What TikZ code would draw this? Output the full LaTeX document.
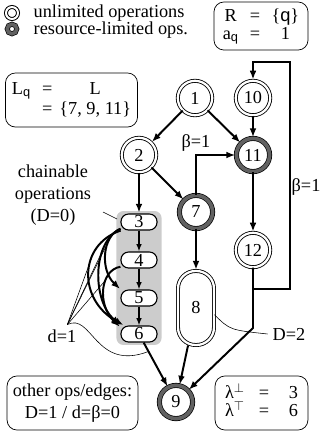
\documentclass[tikz,border=0pt]{standalone}
\usepackage{fontspec}
\setmainfont{Liberation Serif}
\setsansfont{Liberation Sans}
\usetikzlibrary{arrows.meta,positioning,calc,fit,backgrounds}
\tikzset{
  unl/.style={circle, draw=black, line width=0.6pt, double=white,
    double distance=1.6pt, minimum size=0.86cm, inner sep=0pt},
  lim/.style={circle, draw=black, line width=0.5pt, double=black!62,
    double distance=2.6pt, minimum size=0.83cm, inner sep=0pt},
  legunl/.style={unl, line width=0.7pt, minimum size=0.3cm, double distance=1.4pt},
  leglim/.style={lim, minimum size=0.24cm, double distance=2.5pt},
  chn/.style={rectangle, rounded corners=0.19cm, draw=black, line width=0.8pt,
    fill=white, minimum width=0.9cm, minimum height=0.4cm, inner sep=0pt},
  multi/.style={rectangle, rounded corners=0.44cm, draw=black, line width=0.6pt,
    double=white, double distance=1.6pt, minimum width=0.9cm,
    minimum height=1.85cm, inner sep=0pt},
  chainbg/.style={rectangle, rounded corners=5pt, fill=black!20,
    inner xsep=0.1cm, inner ysep=0.06cm},
  infobox/.style={rectangle, rounded corners=7pt, draw=black, line width=0.5pt,
    align=center, inner sep=0pt},
  dep/.style={-{Latex[length=2.2mm,width=1.7mm]}, line width=1.4pt, shorten >=0.6pt},
  link/.style={-{Latex[length=1.8mm,width=1.4mm]}, line width=1pt},
  note/.style={line width=0.4pt},
}

\begin{document}
\begin{tikzpicture}[x=0.025cm, y=-0.025cm, font=\fontsize{13}{15.5}\selectfont]
  \useasboundingbox (0,0) rectangle (320,437);

  % legend
  \node[legunl] (iu) at (12,13) {};
  \node[leglim] (il) at (12,29) {};
  \node[anchor=west, inner sep=1pt] (tu) at (32,13) {unlimited operations};
  \node[anchor=west, inner sep=1pt] (tl) at (32,30) {resource-limited ops.};

  % info boxes
  \node[infobox, minimum width=2.35cm, minimum height=1.2cm] (rbox) at (261,26)
    {\begin{tabular}{@{}c@{\hspace{8pt}}c@{\hspace{8pt}}c@{}}
      R & = & \{\textsf{q}\}\\[-3pt]
      a\textsubscript{\sffamily q} & = & 1
    \end{tabular}};
  \node[infobox, minimum width=3.3cm, minimum height=1.35cm] (lbox) at (71.5,100)
    {\begin{tabular}{@{}c@{\hspace{8pt}}c@{\hspace{5pt}}c@{}}
      L\textsubscript{\sffamily q} & = & L\\[-1pt]
       & = & \{7, 9, 11\}
    \end{tabular}};
  \node[infobox, minimum width=3.27cm, minimum height=1.35cm] (obox) at (72.5,403)
    {other ops/edges:\\D=1 / d=β=0};
  \node[infobox, minimum width=2.32cm, minimum height=1.35cm] (lmbox) at (261.5,403)
    {\begin{tabular}{@{}c@{\hspace{10pt}}c@{\hspace{14pt}}c@{}}
      λ$^{\perp}$ & = & 3\\[-3pt]
      λ$^{\top}$ & = & 6
    \end{tabular}};

  % operations
  \node[unl] (n1) at (195,98) {1};
  \node[unl] (n10) at (253,98) {10};
  \node[unl] (n2) at (139,155) {2};
  \node[lim] (n11) at (253,155) {11};
  \node[lim] (n7) at (196,212) {7};
  \node[unl] (n12) at (253,250) {12};
  \node[multi] (n8) at (196,308) {8};
  \node[lim] (n9) at (176,402) {9};
  \node[chn] (n3) at (139,222) {3};
  \node[chn] (n4) at (139,260) {4};
  \node[chn] (n5) at (139,298) {5};
  \node[chn] (n6) at (139,334) {6};
  \begin{scope}[on background layer]
    \node[chainbg, fit=(n3)(n6)] (chain) {};
  \end{scope}

  % labels
  \node[align=center] (chl) at (53,195) {chainable\\operations\\(D=0)};
  \node (d1) at (62,336) {d=1};
  \node (D2) at (289,334) {D=2};
  \coordinate (chp) at (103,212);
  \coordinate (chq) at (117,219);
  \draw[note] (chp) -- (chq);

  % dependences
  \draw[dep] (n1) -- (n2);
  \draw[dep] (n1) -- (n11);
  \draw[dep] (n10) -- (n11);
  \draw[dep] (n2) -- (n3);
  \draw[dep] (n2) -- (n7);
  \draw[dep] (n7.north) |- node[pos=0.5, above=1pt, inner sep=1pt]{β=1} (n11.west);
  \draw[dep] (n7) -- (n8);
  \draw[dep] (n11) -- (n12);
  \coordinate (br) at (290,289);
  \coordinate (tr) at (290,62);
  \coordinate (kn) at (253,328);
  \draw[dep] (n12.south) |- (br) -- node[pos=0.45, right, inner sep=0.5pt]{β=1} (tr) -| (n10.north);
  \draw[dep] (n12.south) -- (kn) -- (n9);
  \draw[dep] (n8) -- (n9);
  \draw[dep] (n6) -- coordinate[pos=0.2] (e69) (n9);

  % chained operations
  \draw[link] (n3) -- (n4);
  \draw[link] (n4) -- (n5);
  \draw[link] (n5) -- (n6);
  \draw[dep] (n3.200) .. controls (102,236) and (100,270) .. coordinate[pos=0.25] (c35) (n5.155);
  \draw[dep] (n3.205) .. controls (78,245) and (78,300) .. coordinate[pos=0.35] (c36a) (n6.150);
  \draw[dep] (n3.200) .. controls (92,242) and (92,300) .. coordinate[pos=0.3] (c36b) (n6.155);
  \draw[dep] (n4.200) .. controls (100,270) and (97,305) .. coordinate[pos=0.35] (c46) (n6.160);

  % annotations
  \draw[note] (d1.65) -- (c36a);
  \draw[note] (d1.65) -- (c36b);
  \draw[note] (d1.65) -- (c35);
  \draw[note] (d1.65) -- (c46);
  \draw[note] (d1.65) .. controls (92,312) and (95,372) .. (e69);
  \draw[note] (n8.-20) .. controls (230,330) .. (D2.west);
\end{tikzpicture}
\end{document}
